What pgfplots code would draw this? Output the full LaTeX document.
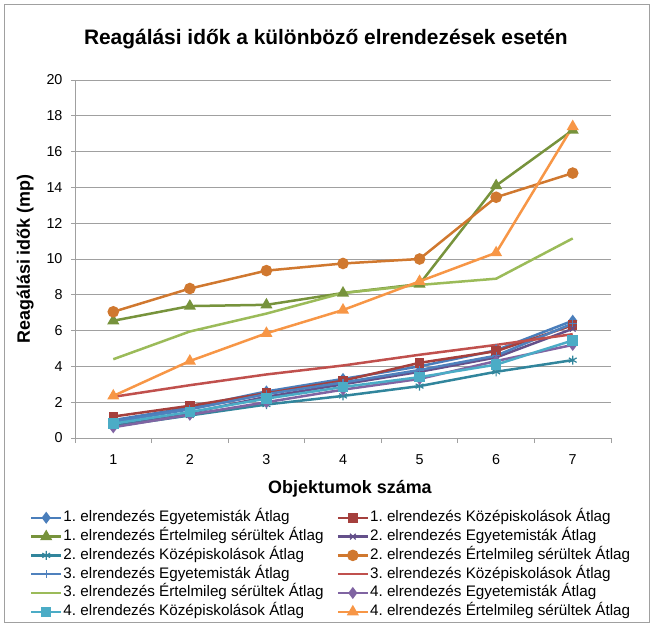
\documentclass[border=0pt]{standalone}
\usepackage{pgfplots}
\pgfplotsset{compat=1.18}
\usepackage{fontspec}
\setmainfont{Liberation Sans}
\frenchspacing
\definecolor{cA}{HTML}{4A7EBB}
\definecolor{cB}{HTML}{A5403D}
\definecolor{cC}{HTML}{77933C}
\definecolor{cD}{HTML}{64508A}
\definecolor{cE}{HTML}{31859C}
\definecolor{cF}{HTML}{D0782F}
\definecolor{cG}{HTML}{4F81BD}
\definecolor{cH}{HTML}{C0504D}
\definecolor{cI}{HTML}{9BBB59}
\definecolor{cJ}{HTML}{8064A2}
\definecolor{cK}{HTML}{4BACC6}
\definecolor{cL}{HTML}{F79646}
\definecolor{gridc}{HTML}{A0A0A0}
\begin{document}
\begin{tikzpicture}
\path (0,0) rectangle (655bp,627bp);
\draw[gridc, line width=0.8bp] (4.5bp,4.5bp) rectangle (649bp,623bp);
\begin{axis}[
  at={(75bp,189bp)}, anchor=south west,
  scale only axis, width=536bp, height=358bp,
  xmin=0.5, xmax=7.5, ymin=0, ymax=20,
  xtick={1,...,7}, ytick={0,2,...,20},
  minor xtick={0.5,1.5,...,7.5},
  major tick length=4bp, minor tick length=5bp,
  tick align=outside,
  major x tick style={draw=none},
  minor x tick style={gridc, line width=0.8bp},
  major y tick style={gridc, line width=0.8bp},
  axis x line*=bottom, axis y line*=left,
  axis line style={gridc, line width=0.8bp},
  ymajorgrids, grid style={gridc, line width=0.8bp},
  /pgf/number format/assume math mode=true,
  tick label style={font=\fontsize{14.4}{17}\selectfont, black},
  xticklabel style={yshift=-9bp},
  yticklabel style={xshift=-5bp},
  title={Reagálási idők a különböző elrendezések esetén},
  title style={font=\bfseries\fontsize{21}{24}\selectfont, at={(rel axis cs:0.468,1.098)}, anchor=center},
  xlabel={Objektumok száma},
  xlabel style={font=\bfseries\fontsize{18}{21}\selectfont, at={(rel axis cs:0.513,-0.142)}, anchor=center},
  ylabel={Reagálási idők (mp)},
  ylabel style={font=\bfseries\fontsize{18}{21}\selectfont, at={(rel axis cs:-0.093,0.5)}, anchor=center, rotate=0},
  every axis plot/.append style={line width=2.5bp, mark size=3.5bp, mark options={solid}},
  legend columns=2,
  legend cell align=left,
  legend image code/.code={\draw[mark repeat=2,mark phase=2,#1] plot coordinates {(0bp,0bp) (15bp,0bp) (30bp,0bp)};},
  legend style={at={(rel axis cs:-0.084,-0.203)}, anchor=north west, draw=none, fill=none,
    inner sep=0pt, outer sep=0pt, font=\fontsize{15.3}{18}\selectfont,
    nodes={inner sep=0pt, text height=11bp, text depth=3.2bp},
    row sep=4.6bp,
    /tikz/every odd column/.append style={column sep=1bp},
    /tikz/every even column/.append style={column sep=13bp}},
]
\addplot[color=cA, mark=diamond*, mark size=4bp] coordinates {(1,1.0) (2,1.7) (3,2.6) (4,3.3) (5,4.0) (6,4.9) (7,6.55)};
\addlegendentry{1. elrendezés Egyetemisták Átlag}
\addplot[color=cB, mark=square*, mark size=3.5bp] coordinates {(1,1.2) (2,1.8) (3,2.5) (4,3.2) (5,4.2) (6,4.85) (7,6.3)};
\addlegendentry{1. elrendezés Középiskolások Átlag}
\addplot[color=cC, mark=triangle*, mark size=4.5bp] coordinates {(1,6.55) (2,7.37) (3,7.44) (4,8.1) (5,8.6) (6,14.1) (7,17.2)};
\addlegendentry{1. elrendezés Értelmileg sérültek Átlag}
\addplot[color=cD, mark=x, mark size=4bp, mark options={line width=1.2bp}] coordinates {(1,0.75) (2,1.4) (3,2.3) (4,3.0) (5,3.7) (6,4.5) (7,6.1)};
\addlegendentry{2. elrendezés Egyetemisták Átlag}
\addplot[color=cE, mark=asterisk, mark size=4.5bp, mark options={line width=1.2bp}] coordinates {(1,0.65) (2,1.26) (3,1.87) (4,2.35) (5,2.9) (6,3.7) (7,4.35)};
\addlegendentry{2. elrendezés Középiskolások Átlag}
\addplot[color=cF, mark=*, mark size=4.5bp] coordinates {(1,7.05) (2,8.35) (3,9.35) (4,9.75) (5,10.0) (6,13.45) (7,14.8)};
\addlegendentry{2. elrendezés Értelmileg sérültek Átlag}
\addplot[color=cG, mark=+, mark size=4bp, mark options={line width=1.2bp}] coordinates {(1,0.9) (2,1.6) (3,2.45) (4,3.1) (5,3.8) (6,4.6) (7,6.4)};
\addlegendentry{3. elrendezés Egyetemisták Átlag}
\addplot[color=cH, no marks] coordinates {(1,2.3) (2,2.95) (3,3.55) (4,4.05) (5,4.65) (6,5.2) (7,5.8)};
\addlegendentry{3. elrendezés Középiskolások Átlag}
\addplot[color=cI, no marks] coordinates {(1,4.4) (2,5.95) (3,6.95) (4,8.1) (5,8.55) (6,8.9) (7,11.15)};
\addlegendentry{3. elrendezés Értelmileg sérültek Átlag}
\addplot[color=cJ, mark=diamond*, mark size=4bp] coordinates {(1,0.6) (2,1.3) (3,2.0) (4,2.7) (5,3.3) (6,4.3) (7,5.2)};
\addlegendentry{4. elrendezés Egyetemisták Átlag}
\addplot[color=cK, mark=square*, mark size=4bp] coordinates {(1,0.8) (2,1.45) (3,2.2) (4,2.85) (5,3.4) (6,4.1) (7,5.45)};
\addlegendentry{4. elrendezés Középiskolások Átlag}
\addplot[color=cL, mark=triangle*, mark size=4.5bp] coordinates {(1,2.35) (2,4.3) (3,5.85) (4,7.15) (5,8.75) (6,10.35) (7,17.4)};
\addlegendentry{4. elrendezés Értelmileg sérültek Átlag}
\end{axis}
\end{tikzpicture}
\end{document}
